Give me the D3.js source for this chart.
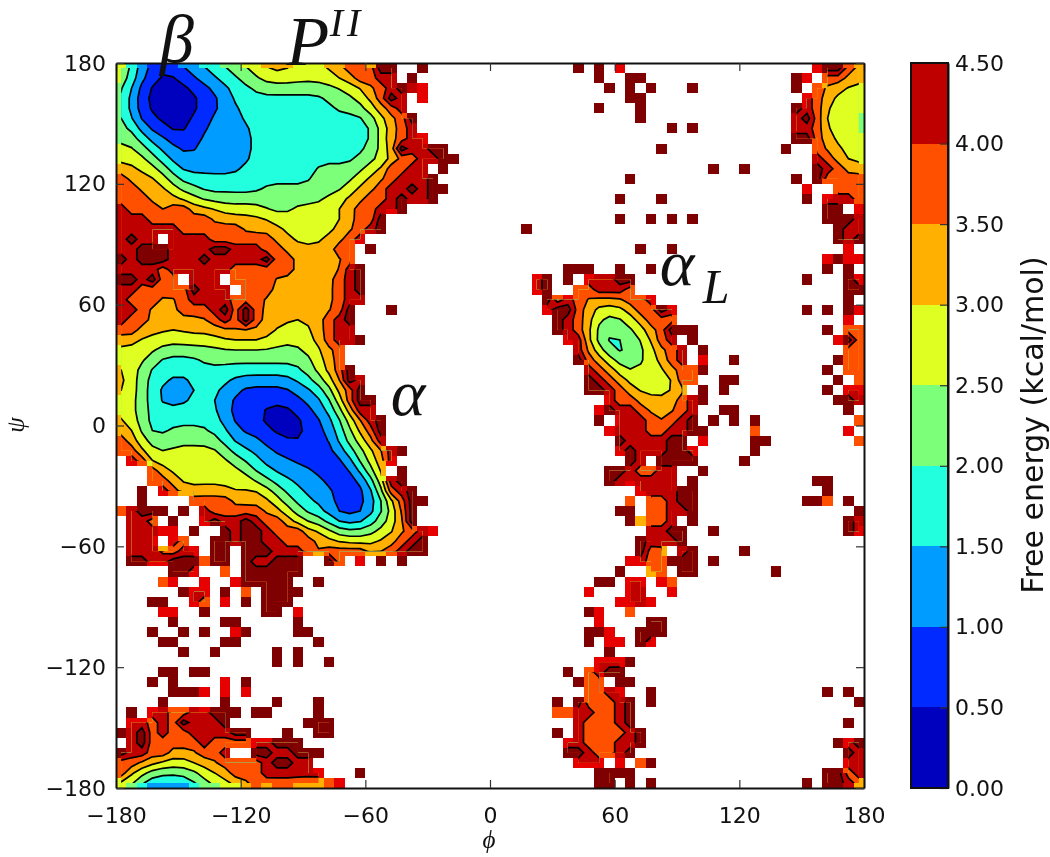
<!DOCTYPE html>
<html>
<head>
<meta charset="utf-8">
<script src="https://cdn.jsdelivr.net/npm/d3@7"></script>
<style>
body { margin: 0; background: #fff; }
svg { display: block; filter: blur(0.55px); }
text { font-family: "DejaVu Sans", sans-serif; fill: #111; }
.math { font-family: "Liberation Serif", serif; font-style: italic; }
.axis path { stroke: #111; stroke-width: 2px; fill: none; }
.axis line { stroke: #333; stroke-width: 1.2px; }
.axis text { font-size: 22px; font-family: "DejaVu Sans", sans-serif; fill: #111; }
</style>
</head>
<body>
<script>
var w = 1050, h = 857;

var levels = [0, 0.5, 1, 1.5, 2, 2.5, 3, 3.5, 4, 4.5];
var bandColors = ["#0000bf", "#002aff", "#009cff", "#21ffde", "#7cff79", "#deff21", "#ffb000", "#ff5000", "#bf0000"];
var overColor = "#7f0000";
var edgeRed = "#e60000";
var phiTicks = [-180, -120, -60, 0, 60, 120, 180];
var psiTicks = [-180, -120, -60, 0, 60, 120, 180];
var cbTicks = [0, 0.5, 1, 1.5, 2, 2.5, 3, 3.5, 4, 4.5];

// free energy band of every 5 degree bin, top row (psi 175..180) first
// "col=run" : digit = band index, 9 = above 4.5, r = thin edge bin, . = no samples
var rows = [
"0=532111223344556665556677699..9 44=9 46=9 48=r 67=r9976",
"0=53210011223344555555566 7788.9 46=9 49=99 65=9r.7766",
"0=421000011223344444444455678 98r 47=9 49=9.9 55=9 65=9.76655",
"0=421000001123333333334445679 8.r 49=99 66=r76555",
"0=421000001122333333333 4445678 46=9 50=9 65=9r75555",
"0=421100011222333333333 333 45679 50=9 65=8975554",
"0=4421100112222333333333333 5678 53=9 55=9 65=8875554",
"0=4432211122222333333333333 5678r 65=9976555",
"0=554322112222233333333333 456 98899 52=9 64=9 67=76655",
"0=555432222222233333333 334445678899 67=87655",
"0=66554322222233333334 4444567788.9 57=9 60=9 67=98766",
"0=76665433333333333334 44456678889 49=9 65=9.97777",
"0=77666544333333444444 445667889899 66=r..777",
"0=77766655444444444444 55667789889 48=9 52=9 66=9.r887",
"0=87776776665555444555 566778r9 68=99.r",
"0=88877777766666655555 556779 48=9 51=9 53=9 55=9 68=9998",
"0=88888877777766665555 566789 39=9 69=988",
"0=8988.888877777766555 667r 69=989",
"0=88999888899888776666 677.9 50=9 53=9 70=r",
"0=98999888988888977666 667 68=r9rr",
"0=88887888888777777666 6689 43=999 48=9 51=9 68=9.9",
"0=998977.888.777766666 6789 40=r9.9.r8899 66=9 70=9r",
"0=88777779888.77766666 6789 40=r9..778887 70=99",
"0=87776678888777665666 6788 41=97r7666677r 70=9",
"0=88766677789797666666 679...9 41=r99765556779r 66=9 68=9 70=9r",
"0=87766666678797666566 789 42=987644456777 70=r",
"0=77666566666666655556 788 42=98764444567999 68=9 70=77",
"0=66555555556666655556 7889 43=r8542444678.9 69=r97",
"0=55554444444444444455 67 44=86542445678.9 70=77",
"0=55543333444444444445 67 44=97654445678.r 59=9 69=977",
"0=65433333333333333345 679 45=876545556779 68=9.77",
"0=65433223333222222334 5698 45=98765555577 58=99 69=9.7",
"0=65432222332211111223 4679 45=9987655556.9 58=9 68=9.rr",
"0=55432223322111111122 35799 47=r776666789 69=998",
"0=55433333332111000112 34688 46=r988766678 58=99 70=9",
"0=65433333332111000011 235689 46=9.r8876789 57=9 59=9 61=9 71=7",
"0=66433444433211100011 234679 47=r888778899 61=7 70=r",
"0=76544444443222111011 134568 48=9888899.r 61=99 71=7",
"0=77554555554332211111 12345689 48=r988899r 61=9",
"0=.r755555555433222111 112456r 49=98.9999 60=9",
"0=...76555555553322221 111346.9 47=9987788 56=9",
"0=...77655555554433222 11113589 47=98r8888.9 67=99",
"0=..9.r766666566543322 211124789 50=r88899 68=9",
"0=..9....7777666654332 2111235799 49=7.77899 66=997 70=9",
"0=78999.9.877777665433 211123569 48=99.77889 71=9",
"0=.887.9..r98898776544 322234569 49=96778.9 70=98",
"0=.888rr.9..9899877766 5444455678r 51=8899 57=9 70=9r",
"0=.88r.r7..99899887776 6555566789 50=98889",
"0=.888678r.99.99988876 7777667899 50=976.89 60=9",
"0=.99rr999799.988999.. 97.r.9.9 49=rr77999 57=9",
"5=99r 10=7 12=999999 48=9 51=67 54=99 63=9",
"4=7r 8=r 11=r99999 19=9 46=99 49=rr 52=r7",
"6=9rr 10=9 12=7 14=9999 45=r 49=r8 53=r",
"3=99 7=r7 10=r 12=9 14=999 48=rr8r",
"4=rr 8=9 14=99 17=r 45=9r 49=7",
"5=9 10=99 17=9 46=r 51=99",
"3=9 6=9 8=9 11=r9 17=99 45=99r 50=999",
"4=99 10=99 19=9 45=9 47=rr 50=9r",
"6=9 9=9 15=9 17=9 47=9",
"15=9 17=9 20=9 46=rrr9",
"4=99 7=99 43=9 45=7r99",
"3=9 5=9 10=r 12=9 44=977.99",
"5=999r 10=r 12=r 45=778r 51=9 68=9 70=9",
"4=9 10=9 15=9 19=9 42=9 44=977789 51=9 71=9",
"1=9 3=r8778r999 13=99 19=9 42=77887789",
"1=rr78798889 18=999 44=877789 70=9",
"0=9897877888899 16=9 19=99 42=9 44=8777789",
"1=89777778 7777 rr999 43=r8777889 69=9r9",
"0=98877666778 13=9988999 43=9987789 70=98",
"0=7766555666777789988 44=rrr.r.79 70=r8",
"0=76544444566777 88888r 23=9 46=9999 68=9978",
"0=5432222344556 7677 6667r 46=99.9 51=9 66=9 68=9986"
];

var nx = 72, ny = 72;
var values = new Array(nx * ny).fill(null);
var bins = [];

// parse the rows into bins
rows.forEach(function(row, j) {
  var parts = row.match(/\d+=[^=]*?(?=\s\d+=|$)/g);
  parts.forEach(function(part) {
    var start = +part.split("=")[0];
    var run = part.split("=")[1].replace(/\s/g, "");
    run.split("").forEach(function(c, k) {
      if (c == ".") return;
      var i = start + k;
      var band = c == "r" ? 8 : +c;
      values[j * nx + i] = levels[0] + (band + 0.5) * 0.5;
      bins.push({i: i, j: j, c: c, band: band});
    });
  });
});

var x = d3.scaleLinear().domain([-180, 180]).range([116, 864]);
var y = d3.scaleLinear().domain([-180, 180]).range([788, 63]);
var cb = d3.scaleLinear().domain([0, 4.5]).range([788, 63]);

function binColor(d) {
  if (d.c == "r") return edgeRed;
  if (d.band == 9) return overColor;
  return bandColors[d.band];
}

var svg = d3.select("body")
            .append("svg")
            .attr("width", w)
            .attr("height", h);

// image layer, one rect per bin
svg.append("g").selectAll("rect")
  .data(bins)
  .enter()
  .append("rect")
  .attr("x", function(d) { return x(-180 + d.i * 5); })
  .attr("y", function(d) { return y(180 - d.j * 5); })
  .attr("width", function(d) { return x(-180 + (d.i + 1) * 5) - x(-180 + d.i * 5); })
  .attr("height", function(d) { return y(180 - (d.j + 1) * 5) - y(180 - d.j * 5); })
  .attr("fill", binColor)
  .attr("shape-rendering", "crispEdges");

// contours only exist where all four corner bins have samples
var clipD = "";
for (var j = 0; j < ny - 1; j++) {
  for (var i = 0; i < nx - 1; i++) {
    if (values[j * nx + i] != null && values[j * nx + i + 1] != null &&
        values[(j + 1) * nx + i] != null && values[(j + 1) * nx + i + 1] != null) {
      var x0 = x(-180 + (i + 0.5) * 5), x1 = x(-180 + (i + 1.5) * 5);
      var y0 = y(180 - (j + 0.5) * 5), y1 = y(180 - (j + 1.5) * 5);
      clipD += "M" + x0 + "," + y0 + "H" + x1 + "V" + y1 + "H" + x0 + "Z";
    }
  }
}
svg.append("clipPath").attr("id", "valid").append("path").attr("d", clipD);

// the bands are coarse, so even out the low basins a little before contouring
var filled = values.map(function(v, k) {
  if (v == null) return 5.25;
  if (v > 3.5) return v;
  var sum = 0, wt = 0;
  for (var b = -1; b <= 1; b++) {
    for (var a = -1; a <= 1; a++) {
      var jj = Math.floor(k / nx) + b, ii = k % nx + a;
      if (jj < 0 || jj >= ny || ii < 0 || ii >= nx) continue;
      var n = values[jj * nx + ii];
      if (n == null) continue;
      var kw = (a == 0 && b == 0) ? 4 : (a == 0 || b == 0) ? 2 : 1;
      sum += n * kw;
      wt += kw;
    }
  }
  return sum / wt;
});
var contours = d3.contours().size([nx, ny]).thresholds(levels.slice(1));
var polys = contours(filled);

var project = d3.geoPath(d3.geoTransform({
  point: function(px, py) {
    this.stream.point(x(-180 + px * 5), y(180 - py * 5));
  }
}));

var inner = svg.append("g").attr("clip-path", "url(#valid)");

inner.append("rect")
  .attr("x", 116).attr("y", 63).attr("width", 748).attr("height", 725)
  .attr("fill", bandColors[0]);

inner.selectAll("path.band")
  .data(polys)
  .enter()
  .append("path")
  .attr("class", "band")
  .attr("d", project)
  .attr("fill", function(d, i) { return i < 8 ? bandColors[i + 1] : overColor; });

inner.selectAll("path.line")
  .data(polys)
  .enter()
  .append("path")
  .attr("class", "line")
  .attr("d", project)
  .attr("fill", "none")
  .attr("stroke", "#000")
  .attr("stroke-width", 1.7);

// axes
var fmt = function(d) { return String(d).replace("-", "\u2212"); };

svg.append("g").attr("class", "axis").attr("transform", "translate(0,788)")
  .call(d3.axisBottom(x).tickValues(phiTicks).tickSizeInner(-8).tickSizeOuter(0).tickPadding(19).tickFormat(fmt));
svg.append("g").attr("class", "axis").attr("transform", "translate(0,63)")
  .call(d3.axisTop(x).tickValues(phiTicks).tickSizeInner(-8).tickSizeOuter(0).tickFormat(""));
svg.append("g").attr("class", "axis").attr("transform", "translate(116,0)")
  .call(d3.axisLeft(y).tickValues(psiTicks).tickSizeInner(-8).tickSizeOuter(0).tickPadding(10).tickFormat(fmt));
svg.append("g").attr("class", "axis").attr("transform", "translate(864,0)")
  .call(d3.axisRight(y).tickValues(psiTicks).tickSizeInner(-8).tickSizeOuter(0).tickFormat(""));

// colorbar
svg.append("g").selectAll("rect")
  .data(bandColors)
  .enter()
  .append("rect")
  .attr("x", 911)
  .attr("width", 37)
  .attr("y", function(d, i) { return cb(levels[i + 1]); })
  .attr("height", function(d, i) { return cb(levels[i]) - cb(levels[i + 1]); })
  .attr("fill", function(d) { return d; })
  .attr("shape-rendering", "crispEdges");

svg.append("g").attr("class", "axis").attr("transform", "translate(948,0)")
  .call(d3.axisRight(cb).tickValues(cbTicks).tickSizeInner(-8).tickSizeOuter(0).tickPadding(7).tickFormat(d3.format(".2f")));

svg.append("rect")
  .attr("x", 911).attr("y", 63).attr("width", 37).attr("height", 725)
  .attr("fill", "none").attr("stroke", "#111").attr("stroke-width", 2);

svg.append("text")
  .attr("transform", "translate(1043,425) rotate(-90)")
  .attr("text-anchor", "middle")
  .attr("font-size", "30px")
  .text("Free energy (kcal/mol)");

// axis names and region labels
function label(str, px, py, size, anchor) {
  return svg.append("text")
    .attr("class", "math")
    .attr("x", px)
    .attr("y", py)
    .attr("font-size", size + "px")
    .attr("text-anchor", anchor || "middle")
    .attr("fill", "#000")
    .text(str);
}

label("\u03d5", 489, 848, 25);
svg.append("text")
  .attr("class", "math")
  .attr("transform", "translate(24,425) rotate(-90)")
  .attr("text-anchor", "middle")
  .attr("font-size", "25px")
  .text("\u03c8");

label("\u03b2", 177, 62, 68);
label("P", 308, 65, 70);
label("II", 347, 36, 40).attr("letter-spacing", "4px");
label("\u03b1", 408, 415, 66);
label("\u03b1", 677, 285, 66);
label("L", 716, 303, 48);
</script>
</body>
</html>
